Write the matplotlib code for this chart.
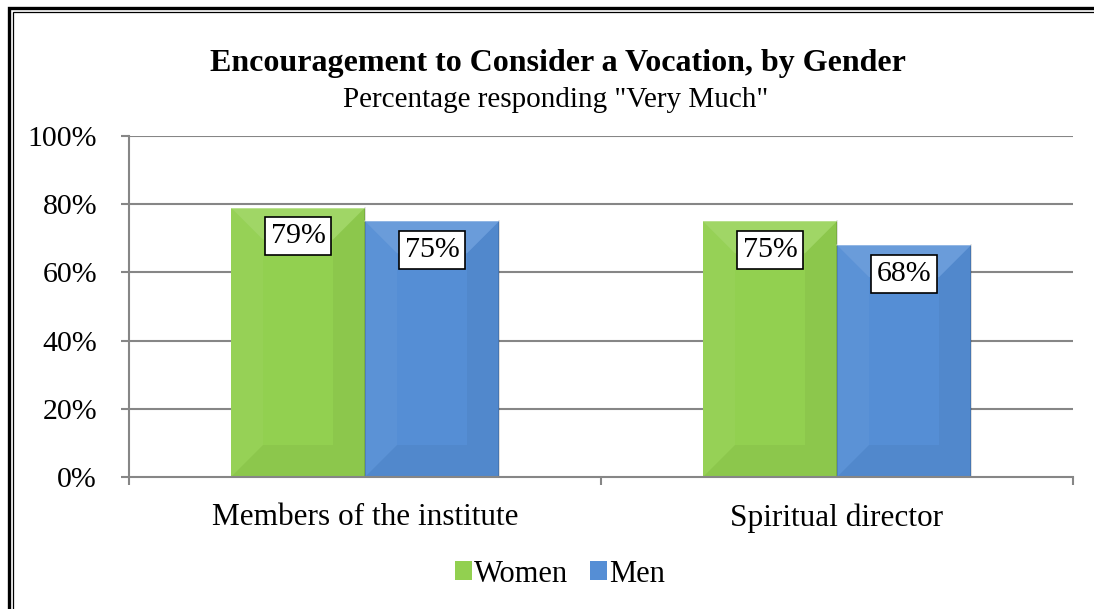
import numpy as np
import matplotlib
matplotlib.use('Agg')
import matplotlib.pyplot as plt
from matplotlib.patches import Polygon, Rectangle, Patch

# Data
categories = ['Members of the institute', 'Spiritual director']
series = ['Women', 'Men']
women = [79, 75]
men = [75, 68]
y_ticks = [0, 20, 40, 60, 80, 100]

colors = {'Women': '#92D050', 'Men': '#558ED5'}
font = 'Liberation Serif'
W, H = 1094, 609

fig = plt.figure(figsize=(W / 100, H / 100), dpi=100)
ax = fig.add_axes([129 / W, 1 - 477 / H, (1073 - 129) / W, (477 - 136) / H])
ax.set_xlim(-0.5, len(categories) - 0.5)
ax.set_ylim(0, 100)

# pixels -> data units
px_x = (len(categories)) / (1073 - 129)
px_y = 100 / (477 - 136)

bar_w = 0.284
x = np.arange(len(categories))


def bevel_bar(xc, h, color):
    x0, x1 = xc - bar_w / 2, xc + bar_w / 2
    bx, by = 32 * px_x, 32 * px_y
    by = min(by, h / 2)
    ax.add_patch(Rectangle((x0, 0), bar_w, h, facecolor=color, edgecolor='none', zorder=2))
    # top band (lighter)
    ax.add_patch(Polygon([(x0, h), (x1, h), (x1 - bx, h - by), (x0 + bx, h - by)],
                         facecolor='white', alpha=0.13, edgecolor='none', zorder=3))
    # left band
    ax.add_patch(Polygon([(x0, 0), (x0, h), (x0 + bx, h - by), (x0 + bx, by)],
                         facecolor='white', alpha=0.04, edgecolor='none', zorder=3))
    # right band (darker)
    ax.add_patch(Polygon([(x1, 0), (x1, h), (x1 - bx, h - by), (x1 - bx, by)],
                         facecolor='black', alpha=0.04, edgecolor='none', zorder=3))
    # bottom band
    ax.add_patch(Polygon([(x0, 0), (x1, 0), (x1 - bx, by), (x0 + bx, by)],
                         facecolor='black', alpha=0.04, edgecolor='none', zorder=3))
    # thin edge lines
    ax.plot([x1, x1], [0, h], color='black', alpha=0.15, lw=1.2, zorder=4)
    ax.plot([x0, x1], [h, h], color='white', alpha=0.35, lw=1.2, zorder=4)
    ax.annotate(f'{h}%', xy=(xc, h), xytext=(0, -28.5 * 0.72), textcoords='offset points',
                ha='center', va='center', fontsize=21.5, family=font, zorder=6,
                bbox=dict(boxstyle='square,pad=0.2', facecolor='white',
                          edgecolor='black', linewidth=1.2))


for i in range(len(categories)):
    bevel_bar(x[i] - bar_w / 2, women[i], colors['Women'])
    bevel_bar(x[i] + bar_w / 2, men[i], colors['Men'])

# Axes styling
grid_c = '#868686'
ax.set_yticks(y_ticks)
ax.set_yticklabels([f'{v}%' for v in y_ticks], family=font, fontsize=21.5)
for v in y_ticks[1:]:
    ax.axhline(v, color=grid_c, lw=1.5, zorder=1)
ax.set_xticks(x)
ax.set_xticklabels(categories, family=font, fontsize=22.5)
ax.set_xticks(np.arange(len(categories) + 1) - 0.5, minor=True)
ax.tick_params(axis='x', which='major', length=0, pad=19)
ax.tick_params(axis='x', which='minor', length=6, width=1.5, color=grid_c, direction='out')
ax.tick_params(axis='y', length=6, width=1.5, color=grid_c, pad=17)
for s in ['top', 'right']:
    ax.spines[s].set_visible(False)
for s in ['left', 'bottom']:
    ax.spines[s].set_color(grid_c)
    ax.spines[s].set_linewidth(1.5)
ax.spines['bottom'].set_zorder(5)

# Titles
fig.text(558 / W, 1 - 64 / H, 'Encouragement to Consider a Vocation, by Gender',
         ha='center', va='center', family=font, fontsize=23, fontweight='bold')
fig.text(556 / W, 1 - 100 / H, 'Percentage responding "Very Much"',
         ha='center', va='center', family=font, fontsize=21)

# Legend
handles = [Patch(facecolor=colors[s], edgecolor='none') for s in series]
fig.legend(handles, series, loc='center', bbox_to_anchor=(560 / W, 1 - 574 / H),
           ncol=2, frameon=False, prop={'family': font, 'size': 22},
           handlelength=0.55, handleheight=0.55, handletextpad=0.08, columnspacing=0.7)

# Double border (only left/top visible in the crop)
fig.add_artist(Rectangle((8.5 / W, -0.1), 1.2, 1.1 - 8.5 / H, transform=fig.transFigure,
                         fill=False, edgecolor='black', lw=2.4))
fig.add_artist(Rectangle((12.5 / W, -0.1), 1.2, 1.1 - 12.5 / H, transform=fig.transFigure,
                         fill=False, edgecolor='black', lw=0.9))

fig.savefig('out.png', dpi=100)
